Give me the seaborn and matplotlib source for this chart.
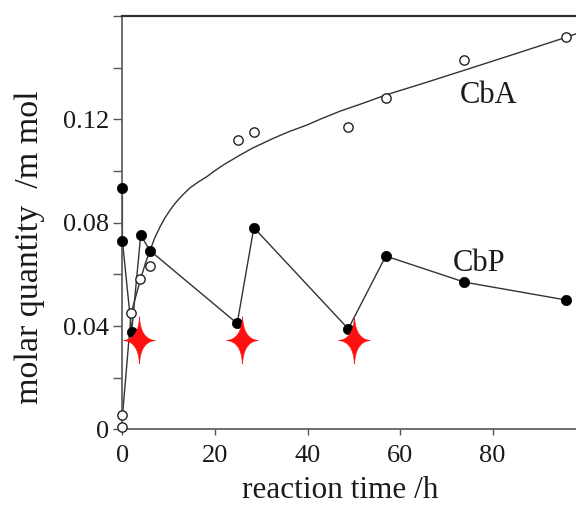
import numpy as np
import pandas as pd
import seaborn as sns
import matplotlib.pyplot as plt
from matplotlib.path import Path
from matplotlib.ticker import MultipleLocator

# CbP (filled circles, joined by straight segments)
cbp_time = [0, 0, 2.0, 3.95, 5.96, 24.8, 28.4, 48.8, 56.9, 73.9, 95.8]
cbp_mol = [0.0935, 0.0730, 0.0378, 0.0752, 0.0692, 0.0410, 0.0781, 0.0389, 0.0671, 0.0570, 0.0501]

# CbA (open circles)
cba_time = [0, 0, 1.86, 3.87, 5.9, 24.9, 28.4, 48.8, 56.9, 73.9, 95.8]
cba_mol = [0.001, 0.0054, 0.0449, 0.0581, 0.0632, 0.1121, 0.1150, 0.1170, 0.1283, 0.1429, 0.1520]

# CbA trend curve
fit_time = [0, 1.9, 3.9, 5.0, 6.0, 7.0, 8.15, 9.2, 10.3, 11.3, 12.4, 13.5, 14.6, 16.4, 18.2, 20.0, 22.0,
            25.4, 28.0, 32.6, 36.0, 39.8, 43.0, 47.0, 52.0, 56.9, 65.0, 73.9, 85.0, 95.8, 98.0]
fit_mol = [0.005, 0.045, 0.058, 0.0645, 0.0694, 0.0742, 0.0785, 0.0819, 0.0849, 0.0873, 0.0896, 0.0916,
           0.0935, 0.0958, 0.0978, 0.1002, 0.1026, 0.1062, 0.1088, 0.1127, 0.1153, 0.1178, 0.1203, 0.1232,
           0.1263, 0.1295, 0.1340, 0.1391, 0.1455, 0.1518, 0.1532]

# red stars
star_time = [3.65, 25.8, 50.1]
star_mol = [0.0346, 0.0346, 0.0346]

xtick_vals = [0, 20, 40, 60, 80]
ytick_vals = [0, 0.04, 0.08, 0.12]
ytick_labels = ['0', '0.04', '0.08', '0.12']

cbp = pd.DataFrame({'time': cbp_time, 'mol': cbp_mol})
cba = pd.DataFrame({'time': cba_time, 'mol': cba_mol})
fit = pd.DataFrame({'time': fit_time, 'mol': fit_mol})
stars = pd.DataFrame({'time': star_time, 'mol': star_mol})

sns.set_theme(style='ticks')
plt.rcParams['font.family'] = ['Liberation Serif', 'DejaVu Serif']
plt.rcParams['text.color'] = '#1a1a1a'
plt.rcParams['axes.labelcolor'] = '#1a1a1a'

fig = plt.figure(figsize=(5.76, 5.07), dpi=100)
ax = fig.add_axes([0.2125, 0.1533, 0.7875, 0.8147])

sns.lineplot(data=fit, x='time', y='mol', sort=False, estimator=None, color='#333333', lw=1.0, ax=ax)
sns.lineplot(data=cbp, x='time', y='mol', sort=False, estimator=None, color='#333333', lw=1.0, ax=ax)
sns.scatterplot(data=cbp, x='time', y='mol', color='black', s=55, edgecolor='black', linewidth=0.5,
                ax=ax, zorder=4, clip_on=False)
sns.scatterplot(data=cba, x='time', y='mol', facecolor='white', s=45, edgecolor='#222222', linewidth=1.0,
                ax=ax, zorder=4, clip_on=False)

# four pointed star with concave sides
star = Path([(0, 1.5), (0.07, 0.08), (1, 0), (0.07, -0.08), (0, -1.5), (-0.07, -0.08), (-1, 0),
             (-0.07, 0.08), (0, 1.5), (0, 1.5)],
            [Path.MOVETO, Path.CURVE3, Path.CURVE3, Path.CURVE3, Path.CURVE3, Path.CURVE3, Path.CURVE3,
             Path.CURVE3, Path.CURVE3, Path.CLOSEPOLY])
sns.scatterplot(data=stars, x='time', y='mol', marker=star, s=34 ** 2, color='#ff1010',
                edgecolor='#ff1010', linewidth=0.4, ax=ax, zorder=5)

ax.text(79.1, 0.1265, 'CbA', fontsize=22, ha='center', va='baseline')
ax.text(77.1, 0.0615, 'CbP', fontsize=22, ha='center', va='baseline')

ax.set_xlim(0, 98)
ax.set_ylim(0, 0.16)
ax.set_xticks(xtick_vals)
ax.set_xticklabels([str(v) for v in xtick_vals])
ax.set_yticks(ytick_vals)
ax.set_yticklabels(ytick_labels)
ax.yaxis.set_minor_locator(MultipleLocator(0.02))
ax.tick_params(axis='both', which='major', labelsize=19, colors='#555555', labelcolor='#1a1a1a', direction='out')
ax.tick_params(axis='y', which='major', length=6.5, width=1, pad=3)
ax.tick_params(axis='y', which='minor', length=6.5, width=1, colors='#555555')
ax.tick_params(axis='x', which='major', length=4.5, width=1, pad=7)

ax.set_xlabel('reaction time /h', fontsize=22.5)
ax.set_ylabel('molar quantity  /m mol', fontsize=24.5)
ax.xaxis.set_label_coords(0.48, -0.112)
ax.yaxis.set_label_coords(-0.17, 0.44)

for side in ['left', 'bottom', 'top']:
    ax.spines[side].set_color('#555555')
    ax.spines[side].set_linewidth(1.2)
ax.spines['top'].set_color('#333333')
ax.spines['top'].set_linewidth(1.6)
ax.spines['right'].set_visible(False)

fig.savefig('out.png', dpi=100)
